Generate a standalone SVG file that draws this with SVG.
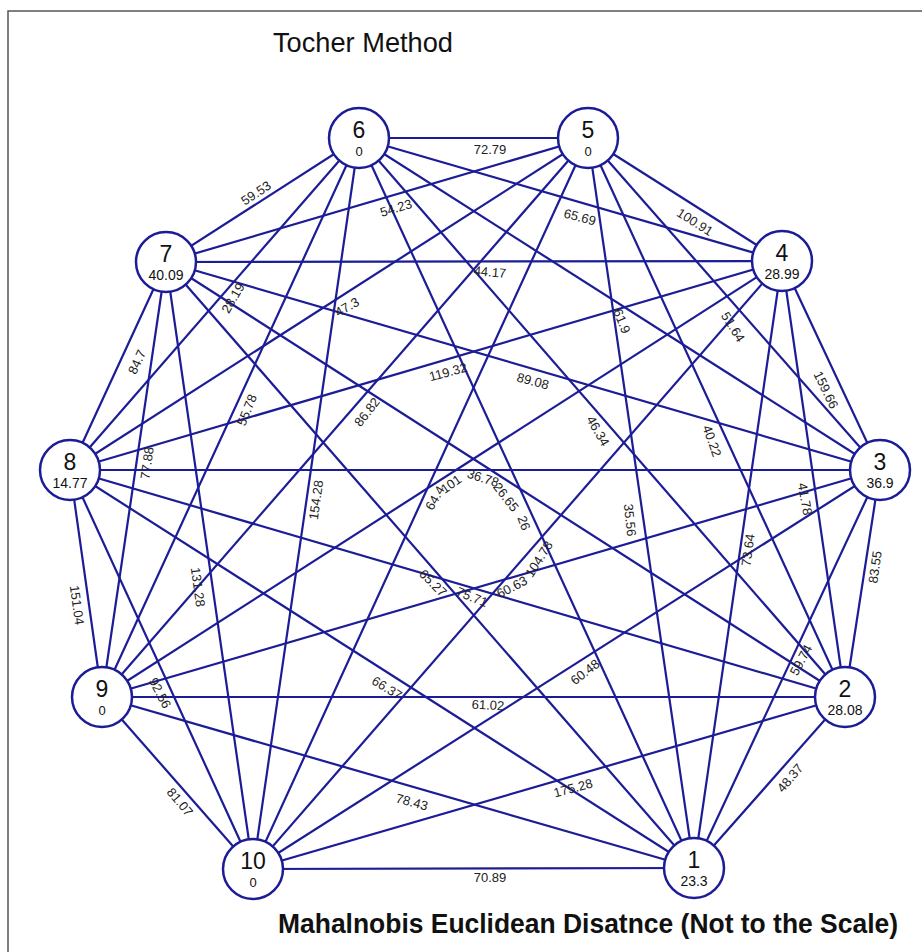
<svg xmlns="http://www.w3.org/2000/svg" width="922" height="952" viewBox="0 0 922 952">
<style>
.e{stroke:#1c1c96;stroke-width:2.2;fill:none}
.n circle{fill:#fff;stroke:#1c1c96;stroke-width:2.5}
.num{font-family:"Liberation Sans",Arial,sans-serif;font-size:23px;fill:#111;text-anchor:middle}
.val{font-family:"Liberation Sans",Arial,sans-serif;font-size:14px;fill:#111;text-anchor:middle}
.z{font-size:13px}
.lb{font-family:"Liberation Sans",Arial,sans-serif;font-size:13px;fill:#222;text-anchor:middle;dominant-baseline:central}
</style>
<rect width="922" height="952" fill="#fff"/>
<polyline points="8,952 8,11 922,11" fill="none" stroke="#555" stroke-width="1.5"/>
<text x="273" y="52" font-family="Liberation Sans,Arial,sans-serif" font-size="28" fill="#111" textLength="180" lengthAdjust="spacingAndGlyphs">Tocher Method</text>
<g id="connectors" class="e">
<line x1="694" y1="868" x2="845" y2="697"/>
<line x1="694" y1="868" x2="880" y2="470"/>
<line x1="694" y1="868" x2="782" y2="261"/>
<line x1="694" y1="868" x2="588" y2="138"/>
<line x1="694" y1="868" x2="359" y2="138"/>
<line x1="694" y1="868" x2="166" y2="262"/>
<line x1="694" y1="868" x2="70" y2="470"/>
<line x1="694" y1="868" x2="102" y2="697"/>
<line x1="694" y1="868" x2="253" y2="869"/>
<line x1="845" y1="697" x2="880" y2="470"/>
<line x1="845" y1="697" x2="782" y2="261"/>
<line x1="845" y1="697" x2="588" y2="138"/>
<line x1="845" y1="697" x2="359" y2="138"/>
<line x1="845" y1="697" x2="166" y2="262"/>
<line x1="845" y1="697" x2="70" y2="470"/>
<line x1="845" y1="697" x2="102" y2="697"/>
<line x1="845" y1="697" x2="253" y2="869"/>
<line x1="880" y1="470" x2="782" y2="261"/>
<line x1="880" y1="470" x2="588" y2="138"/>
<line x1="880" y1="470" x2="359" y2="138"/>
<line x1="880" y1="470" x2="166" y2="262"/>
<line x1="880" y1="470" x2="70" y2="470"/>
<line x1="880" y1="470" x2="102" y2="697"/>
<line x1="880" y1="470" x2="253" y2="869"/>
<line x1="782" y1="261" x2="588" y2="138"/>
<line x1="782" y1="261" x2="359" y2="138"/>
<line x1="782" y1="261" x2="166" y2="262"/>
<line x1="782" y1="261" x2="70" y2="470"/>
<line x1="782" y1="261" x2="102" y2="697"/>
<line x1="782" y1="261" x2="253" y2="869"/>
<line x1="588" y1="138" x2="359" y2="138"/>
<line x1="588" y1="138" x2="166" y2="262"/>
<line x1="588" y1="138" x2="70" y2="470"/>
<line x1="588" y1="138" x2="102" y2="697"/>
<line x1="588" y1="138" x2="253" y2="869"/>
<line x1="359" y1="138" x2="166" y2="262"/>
<line x1="359" y1="138" x2="70" y2="470"/>
<line x1="359" y1="138" x2="102" y2="697"/>
<line x1="359" y1="138" x2="253" y2="869"/>
<line x1="166" y1="262" x2="70" y2="470"/>
<line x1="166" y1="262" x2="102" y2="697"/>
<line x1="166" y1="262" x2="253" y2="869"/>
<line x1="70" y1="470" x2="102" y2="697"/>
<line x1="70" y1="470" x2="253" y2="869"/>
<line x1="102" y1="697" x2="253" y2="869"/>
</g>
<g id="edge-labels" class="lb">
<text x="490" y="149">72.79</text>
<text x="256" y="193" transform="rotate(-33 256 193)">59.53</text>
<text x="396" y="208" transform="rotate(-17 396 208)">54.23</text>
<text x="580" y="217" transform="rotate(15 580 217)">65.69</text>
<text x="695" y="222" transform="rotate(32 695 222)">100.91</text>
<text x="490" y="272" transform="rotate(5 490 272)">44.17</text>
<text x="233" y="298" transform="rotate(-60 233 298)">28.19</text>
<text x="347" y="307" transform="rotate(-30 347 307)">47.3</text>
<text x="137" y="362" transform="rotate(-65 137 362)">84.7</text>
<text x="247" y="410" transform="rotate(-68 247 410)">55.78</text>
<text x="367" y="412" transform="rotate(-52 367 412)">86.82</text>
<text x="448" y="372" transform="rotate(-15 448 372)">119.32</text>
<text x="533" y="381" transform="rotate(15 533 381)">89.08</text>
<text x="622" y="321" transform="rotate(68 622 321)">61.9</text>
<text x="733" y="327" transform="rotate(58 733 327)">51.64</text>
<text x="826" y="390" transform="rotate(64 826 390)">159.66</text>
<text x="598" y="431" transform="rotate(60 598 431)">46.34</text>
<text x="712" y="441" transform="rotate(70 712 441)">40.22</text>
<text x="805" y="499" transform="rotate(80 805 499)">41.78</text>
<text x="875" y="567" transform="rotate(-82 875 567)">83.55</text>
<text x="630" y="520" transform="rotate(84 630 520)">35.56</text>
<text x="748" y="550" transform="rotate(-82 748 550)">73.64</text>
<text x="801" y="660" transform="rotate(-62 801 660)">59.74</text>
<text x="790" y="778" transform="rotate(-50 790 778)">48.37</text>
<text x="585" y="672" transform="rotate(-38 585 672)">60.48</text>
<text x="488" y="705" transform="rotate(3 488 705)">61.02</text>
<text x="573" y="788" transform="rotate(-15 573 788)">175.28</text>
<text x="490" y="877">70.89</text>
<text x="412" y="802" transform="rotate(15 412 802)">78.43</text>
<text x="387" y="688" transform="rotate(32 387 688)">66.37</text>
<text x="180" y="802" transform="rotate(50 180 802)">81.07</text>
<text x="160" y="693" transform="rotate(62 160 693)">92.56</text>
<text x="77" y="605" transform="rotate(82 77 605)">151.04</text>
<text x="147" y="463" transform="rotate(-82 147 463)">77.88</text>
<text x="198" y="587" transform="rotate(82 198 587)">131.28</text>
<text x="316" y="500" transform="rotate(-82 316 500)">154.28</text>
<text x="435" y="498" transform="rotate(-60 435 498)">64.4</text>
<text x="451" y="484" transform="rotate(-35 451 484)">101</text>
<text x="483" y="478" transform="rotate(18 483 478)">36.78</text>
<text x="506" y="497" transform="rotate(52 506 497)">26.65</text>
<text x="524" y="523" transform="rotate(70 524 523)">26</text>
<text x="539" y="559" transform="rotate(-58 539 559)">104.78</text>
<text x="512" y="587" transform="rotate(-28 512 587)">60.63</text>
<text x="472" y="597" transform="rotate(22 472 597)">75.71</text>
<text x="433" y="583" transform="rotate(45 433 583)">65.27</text>
</g>
<g id="node-1" class="n"><circle cx="694" cy="868" r="30"/><text class="num" x="694" y="868">1</text><text class="val" x="694" y="886">23.3</text></g>
<g id="node-2" class="n"><circle cx="845" cy="697" r="30"/><text class="num" x="845" y="697">2</text><text class="val" x="845" y="715">28.08</text></g>
<g id="node-3" class="n"><circle cx="880" cy="470" r="30"/><text class="num" x="880" y="470">3</text><text class="val" x="880" y="488">36.9</text></g>
<g id="node-4" class="n"><circle cx="782" cy="261" r="30"/><text class="num" x="782" y="261">4</text><text class="val" x="782" y="279">28.99</text></g>
<g id="node-5" class="n"><circle cx="588" cy="138" r="30"/><text class="num" x="588" y="138">5</text><text class="val z" x="588" y="156">0</text></g>
<g id="node-6" class="n"><circle cx="359" cy="138" r="30"/><text class="num" x="359" y="138">6</text><text class="val z" x="359" y="156">0</text></g>
<g id="node-7" class="n"><circle cx="166" cy="262" r="30"/><text class="num" x="166" y="262">7</text><text class="val" x="166" y="280">40.09</text></g>
<g id="node-8" class="n"><circle cx="70" cy="470" r="30"/><text class="num" x="70" y="470">8</text><text class="val" x="70" y="488">14.77</text></g>
<g id="node-9" class="n"><circle cx="102" cy="697" r="30"/><text class="num" x="102" y="697">9</text><text class="val z" x="102" y="715">0</text></g>
<g id="node-10" class="n"><circle cx="253" cy="869" r="30"/><text class="num" x="253" y="869">10</text><text class="val z" x="253" y="887">0</text></g>
<text x="278" y="933" font-family="Liberation Sans,Arial,sans-serif" font-size="27" font-weight="bold" fill="#111" textLength="620" lengthAdjust="spacingAndGlyphs">Mahalnobis Euclidean Disatnce (Not to the Scale)</text>
</svg>
